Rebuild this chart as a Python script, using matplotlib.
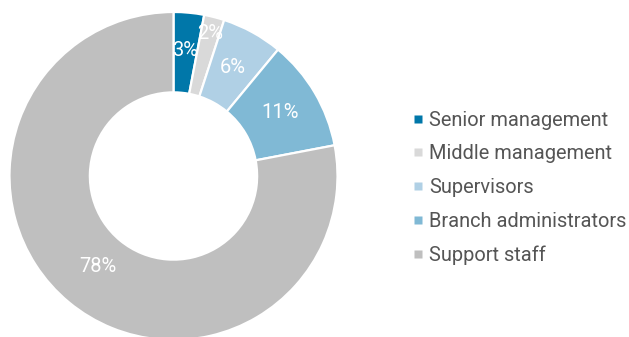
import numpy as np
import matplotlib
matplotlib.use("Agg")
import matplotlib.pyplot as plt
from matplotlib.lines import Line2D

categories = ["Senior management", "Middle management", "Supervisors",
              "Branch administrators", "Support staff"]
shares = [3, 2, 6, 11, 78]
colors = ["#0077A9", "#D9D9D9", "#B0D0E5", "#80B9D5", "#BFBFBF"]

plt.rcParams["font.family"] = ["Roboto", "DejaVu Sans"]

W, H = 629, 337
fig = plt.figure(figsize=(W / 100, H / 100), dpi=100)
ax = fig.add_axes([0, 0, 1, 1])

R = 164.0          # outer radius in pixels
cx, cy = 173.5, 161.0  # centre, pixels from bottom-left
hole = 0.51

wedges, _ = ax.pie(shares, colors=colors, startangle=90, counterclock=False,
                   radius=1.0, wedgeprops=dict(width=1 - hole, edgecolor="white",
                                               linewidth=1.6))

# percentage labels on the ring
label_r = [0.77, 0.90, 0.755, 0.755, 0.72]
for w, v, r in zip(wedges, shares, label_r):
    ang = np.deg2rad((w.theta1 + w.theta2) / 2)
    ax.text(r * np.cos(ang), r * np.sin(ang), f"{v}%", color="white",
            fontsize=14.5, ha="center", va="center")

ax.set_xlim(-cx / R, (W - cx) / R)
ax.set_ylim(-cy / R, (H - cy) / R)
ax.set_aspect("auto")
ax.axis("off")

handles = [Line2D([0], [0], marker="s", linestyle="none", markersize=5.8,
                  markerfacecolor=c, markeredgecolor="none") for c in colors]
leg = ax.legend(handles, categories, loc="center left",
                bbox_to_anchor=(413.5 / W, 1 - 188 / H), frameon=False,
                fontsize=14.4, labelcolor="#555555", handlelength=0.45,
                handletextpad=0.33, labelspacing=0.74, borderpad=0,
                borderaxespad=0)

fig.savefig("out.png", dpi=100)
